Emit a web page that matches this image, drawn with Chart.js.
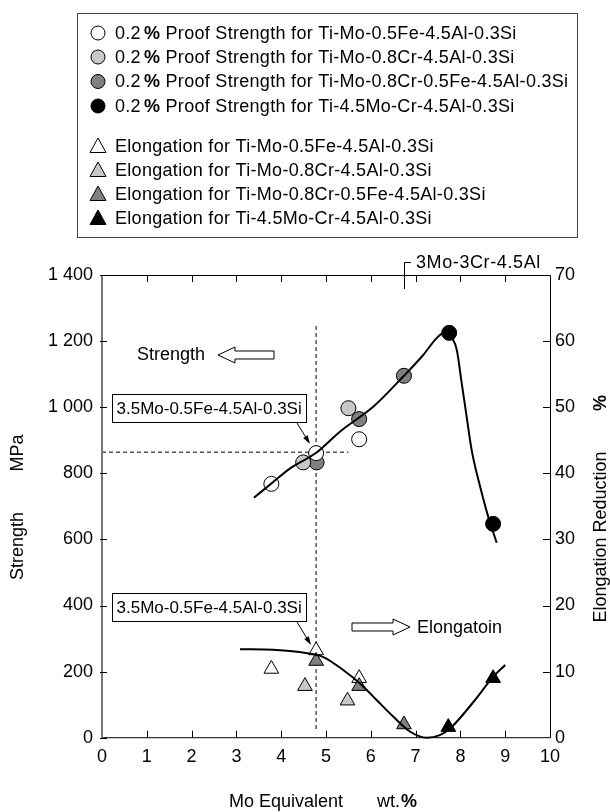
<!DOCTYPE html>
<html>
<head>
<meta charset="utf-8">
<script src="https://cdn.jsdelivr.net/npm/chart.js@4.4.1/dist/chart.umd.min.js"></script>
<style>
  body { margin: 0; background: #fff; }
  canvas { display: block; }
</style>
</head>
<body>
<canvas id="chartMo" width="610" height="812"></canvas>
<script>
// x ticks (Mo equivalent, wt.%) and axis ranges
const moTicks = [0, 1, 2, 3, 4, 5, 6, 7, 8, 9, 10];
const strengthTicks = [0, 200, 400, 600, 800, 1000, 1200, 1400];
const elongTicks = [0, 10, 20, 30, 40, 50, 60, 70];

// 0.2% proof strength (MPa) - circles
const psWhiteMo = [3.78, 4.78, 5.74];
const psWhite = [768, 861, 903];
const psLightMo = [4.49, 5.50];
const psLight = [833, 997];
const psDarkMo = [4.79, 5.74, 6.74];
const psDark = [833, 964, 1095];
const psBlackMo = [7.75, 8.73];
const psBlack = [1225, 647];

// elongation (%) - triangles
const elWhiteMo = [3.78, 4.78, 5.74];
const elWhite = [10.4, 13.2, 9.0];
const elLightMo = [4.53, 5.48];
const elLight = [7.8, 5.6];
const elDarkMo = [4.78, 5.74, 6.74];
const elDark = [11.6, 7.8, 2.0];
const elBlackMo = [7.73, 8.73];
const elBlack = [1.6, 9.0];

// fitted curves
const strCurveMo = [3.39, 3.77, 4.2, 4.78, 5.31, 6.06, 6.74, 7.17, 7.47, 7.62, 7.84, 7.92, 8.03, 8.14, 8.25, 8.44, 8.62, 8.81];
const strCurve = [726, 768, 815, 862, 926, 1002, 1095, 1158, 1209, 1224, 1203, 1173, 1072, 971, 871, 760, 669, 590];
const elCurveMo = [3.08, 3.82, 4.35, 4.94, 5.39, 5.76, 6.13, 6.5, 6.88, 7.25, 7.54, 7.77, 8.29, 8.73, 9.0];
const elCurve = [13.4, 13.3, 13.0, 12.2, 10.2, 8.2, 5.7, 3.2, 0.9, 0.0, 0.4, 1.4, 5.4, 9.2, 11.0];

// dashed guide lines for 3.5Mo-0.5Fe-4.5Al-0.3Si
const guideVMo = [4.78, 4.78];
const guideV = [1246, 23];
const guideHMo = [0, 5.5];
const guideH = [864, 864];

const legendRows = [
  { shape: 'circle', fill: '#ffffff', text: 'Ti-Mo-0.5Fe-4.5Al-0.3Si' },
  { shape: 'circle', fill: '#c8c8c8', text: 'Ti-Mo-0.8Cr-4.5Al-0.3Si' },
  { shape: 'circle', fill: '#808080', text: 'Ti-Mo-0.8Cr-0.5Fe-4.5Al-0.3Si' },
  { shape: 'circle', fill: '#000000', text: 'Ti-4.5Mo-Cr-4.5Al-0.3Si' },
  { shape: 'triangle', fill: '#ffffff', text: 'Ti-Mo-0.5Fe-4.5Al-0.3Si' },
  { shape: 'triangle', fill: '#c8c8c8', text: 'Ti-Mo-0.8Cr-4.5Al-0.3Si' },
  { shape: 'triangle', fill: '#808080', text: 'Ti-Mo-0.8Cr-0.5Fe-4.5Al-0.3Si' },
  { shape: 'triangle', fill: '#000000', text: 'Ti-4.5Mo-Cr-4.5Al-0.3Si' }
];
const legendY = [33, 57, 81.5, 106, 146.5, 170.5, 194.5, 218.5];

const FONT = '"Liberation Sans", Arial, sans-serif';

function zip(xs, ys) {
  return xs.map((x, i) => ({ x: x, y: ys[i] }));
}

function marks(data, axis, style, fill, order) {
  return {
    data: data,
    yAxisID: axis,
    showLine: false,
    pointStyle: style,
    pointRadius: style === 'triangle' ? 8.5 : 7.5,
    backgroundColor: fill,
    borderColor: '#000',
    borderWidth: 1,
    clip: false,
    order: order
  };
}

function curve(data, axis) {
  return {
    data: data,
    yAxisID: axis,
    showLine: true,
    pointRadius: 0,
    borderColor: '#000',
    borderWidth: 2,
    cubicInterpolationMode: 'monotone',
    fill: false,
    clip: false,
    order: 0
  };
}

function dashed(data) {
  return {
    data: data,
    yAxisID: 'y',
    showLine: true,
    pointRadius: 0,
    borderColor: '#555',
    borderWidth: 1.5,
    borderDash: [4, 3],
    fill: false,
    order: 9
  };
}

function hollowArrow(ctx, x1, x2, y, headLen) {
  // arrow from x1 (tail) to x2 (tip)
  const dir = x2 > x1 ? 1 : -1;
  const hb = x2 - dir * headLen;
  ctx.beginPath();
  ctx.moveTo(x2, y);
  ctx.lineTo(hb, y - 8);
  ctx.lineTo(hb, y - 4);
  ctx.lineTo(x1, y - 4);
  ctx.lineTo(x1, y + 4);
  ctx.lineTo(hb, y + 4);
  ctx.lineTo(hb, y + 8);
  ctx.closePath();
  ctx.fillStyle = '#fff';
  ctx.fill();
  ctx.lineWidth = 1;
  ctx.strokeStyle = '#000';
  ctx.stroke();
}

function pointer(ctx, x1, y1, x2, y2) {
  const a = Math.atan2(y2 - y1, x2 - x1);
  ctx.beginPath();
  ctx.moveTo(x1, y1);
  ctx.lineTo(x2 - 6 * Math.cos(a), y2 - 6 * Math.sin(a));
  ctx.lineWidth = 1;
  ctx.strokeStyle = '#000';
  ctx.stroke();
  ctx.beginPath();
  ctx.moveTo(x2, y2);
  ctx.lineTo(x2 - 9 * Math.cos(a - 0.3), y2 - 9 * Math.sin(a - 0.3));
  ctx.lineTo(x2 - 9 * Math.cos(a + 0.3), y2 - 9 * Math.sin(a + 0.3));
  ctx.closePath();
  ctx.fillStyle = '#000';
  ctx.fill();
}

function labelBox(ctx, x, y, w, h, text) {
  ctx.fillStyle = '#fff';
  ctx.fillRect(x, y, w, h);
  ctx.lineWidth = 1;
  ctx.strokeStyle = '#000';
  ctx.strokeRect(x + 0.5, y + 0.5, w, h);
  ctx.fillStyle = '#000';
  ctx.font = '17px ' + FONT;
  ctx.textAlign = 'left';
  ctx.textBaseline = 'middle';
  ctx.fillText(text, x + 4.5, y + h / 2 + 1);
}

function legendMarker(ctx, shape, fill, x, y) {
  ctx.beginPath();
  if (shape === 'circle') {
    ctx.arc(x, y, 7, 0, Math.PI * 2);
  } else {
    ctx.moveTo(x, y - 8.5);
    ctx.lineTo(x + 8, y + 6);
    ctx.lineTo(x - 8, y + 6);
    ctx.closePath();
  }
  ctx.fillStyle = fill;
  ctx.fill();
  ctx.lineWidth = 1;
  ctx.strokeStyle = '#000';
  ctx.stroke();
}

const decorPlugin = {
  id: 'decor',
  afterDraw(chart) {
    const ctx = chart.ctx;
    const a = chart.chartArea;
    const sx = chart.scales.x, sy = chart.scales.y, sy1 = chart.scales.y1;
    ctx.save();

    // frame
    ctx.strokeStyle = '#000';
    ctx.lineWidth = 1;
    ctx.beginPath();
    ctx.moveTo(a.left, a.top + 0.5);
    ctx.lineTo(a.right + 0.5, a.top + 0.5);
    ctx.lineTo(a.right + 0.5, a.bottom);
    ctx.lineTo(a.left, a.bottom);
    ctx.stroke();
    ctx.strokeStyle = '#777';
    ctx.lineWidth = 2;
    ctx.beginPath();
    ctx.moveTo(a.left, a.top);
    ctx.lineTo(a.left, a.bottom + 1);
    ctx.stroke();

    // inward ticks
    ctx.strokeStyle = '#000';
    ctx.lineWidth = 1;
    ctx.beginPath();
    moTicks.slice(1, -1).forEach(v => {
      const px = Math.round(sx.getPixelForValue(v)) + 0.5;
      ctx.moveTo(px, a.bottom); ctx.lineTo(px, a.bottom - 7);
      ctx.moveTo(px, a.top); ctx.lineTo(px, a.top + 7);
    });
    strengthTicks.forEach(v => {
      const py = Math.round(sy.getPixelForValue(v)) + 0.5;
      ctx.moveTo(a.left - 2, py); ctx.lineTo(a.left + 5, py);
    });
    elongTicks.slice(1, -1).forEach(v => {
      const py = Math.round(sy1.getPixelForValue(v)) + 0.5;
      ctx.moveTo(a.right, py); ctx.lineTo(a.right - 7, py);
    });
    ctx.stroke();

    // axis titles
    ctx.fillStyle = '#000';
    ctx.textBaseline = 'middle';
    ctx.textAlign = 'center';
    ctx.font = '18px ' + FONT;
    ctx.save();
    ctx.translate(18, 546);
    ctx.rotate(-Math.PI / 2);
    ctx.fillText('Strength', 0, 0);
    ctx.restore();
    ctx.save();
    ctx.translate(18, 453);
    ctx.rotate(-Math.PI / 2);
    ctx.fillText('MPa', 0, 0);
    ctx.restore();
    ctx.save();
    ctx.translate(601, 537);
    ctx.rotate(-Math.PI / 2);
    ctx.fillText('Elongation Reduction', 0, 0);
    ctx.font = 'bold 18px ' + FONT;
    ctx.fillText('%', 134, 0);
    ctx.restore();

    ctx.font = '18px ' + FONT;
    ctx.fillText('Mo Equivalent', 286, 802);
    ctx.textAlign = 'left';
    ctx.fillText('wt.', 377, 802);
    const wtW = ctx.measureText('wt.').width;
    ctx.font = 'bold 18px ' + FONT;
    ctx.fillText('%', 377 + wtW + 1, 802);

    // 3Mo-3Cr-4.5Al bracket
    ctx.beginPath();
    ctx.moveTo(404.5, 289);
    ctx.lineTo(404.5, 262.5);
    ctx.lineTo(411, 262.5);
    ctx.stroke();
    ctx.font = '18px ' + FONT;
    ctx.letterSpacing = '0.6px';
    ctx.fillText('3Mo-3Cr-4.5Al', 416, 263);
    ctx.letterSpacing = '0px';

    // direction labels
    ctx.fillText('Strength', 137, 355);
    hollowArrow(ctx, 274, 218, 355, 17);
    hollowArrow(ctx, 352, 410, 627, 17);
    ctx.fillStyle = '#000';
    ctx.font = '18px ' + FONT;
    ctx.textAlign = 'left';
    ctx.fillText('Elongatoin', 417, 628);

    // alloy call-outs
    labelBox(ctx, 112, 394, 194, 28, '3.5Mo-0.5Fe-4.5Al-0.3Si');
    pointer(ctx, 297, 423, 310, 444);
    labelBox(ctx, 112, 593, 194, 28, '3.5Mo-0.5Fe-4.5Al-0.3Si');
    pointer(ctx, 297, 622, 311, 645);

    // legend
    ctx.strokeStyle = '#444';
    ctx.lineWidth = 1;
    ctx.strokeRect(77.5, 13.5, 500, 224);
    ctx.letterSpacing = '0.3px';
    legendRows.forEach((r, i) => {
      const y = legendY[i];
      legendMarker(ctx, r.shape, r.fill, 98, y);
      ctx.fillStyle = '#000';
      ctx.textAlign = 'left';
      ctx.textBaseline = 'middle';
      ctx.font = '18px ' + FONT;
      let x = 115;
      if (r.shape === 'circle') {
        ctx.fillText('0.2', x, y + 1);
        x += ctx.measureText('0.2').width + 3;
        ctx.font = 'bold 18px ' + FONT;
        ctx.fillText('%', x, y + 1);
        x += ctx.measureText('%').width;
        ctx.font = '18px ' + FONT;
        ctx.fillText(' Proof Strength for ' + r.text, x, y + 1);
      } else {
        ctx.fillText('Elongation for ' + r.text, x, y + 1);
      }
    });
    ctx.letterSpacing = '0px';

    ctx.restore();
  }
};

const tickFont = { family: FONT, size: 18 };
const noGrid = { display: false, drawTicks: false };

new Chart(document.getElementById('chartMo').getContext('2d'), {
  type: 'scatter',
  data: {
    datasets: [
      dashed(zip(guideVMo, guideV)),
      dashed(zip(guideHMo, guideH)),
      marks(zip(psDarkMo, psDark), 'y', 'circle', '#808080', 5),
      marks(zip(psLightMo, psLight), 'y', 'circle', '#c8c8c8', 4),
      marks(zip(psWhiteMo, psWhite), 'y', 'circle', '#ffffff', 3),
      marks(zip(psBlackMo, psBlack), 'y', 'circle', '#000000', 3),
      marks(zip(elWhiteMo, elWhite), 'y1', 'triangle', '#ffffff', 5),
      marks(zip(elLightMo, elLight), 'y1', 'triangle', '#c8c8c8', 4),
      marks(zip(elDarkMo, elDark), 'y1', 'triangle', '#808080', 3),
      marks(zip(elBlackMo, elBlack), 'y1', 'triangle', '#000000', 3),
      curve(zip(strCurveMo, strCurve), 'y'),
      curve(zip(elCurveMo, elCurve), 'y1')
    ]
  },
  options: {
    responsive: false,
    maintainAspectRatio: false,
    animation: false,
    layout: { padding: { top: 275, left: 0, right: 0, bottom: 0 } },
    plugins: {
      legend: { display: false },
      tooltip: { enabled: false }
    },
    scales: {
      x: {
        type: 'linear',
        min: 0, max: 10,
        afterFit: s => { s.height = 74.3; },
        afterBuildTicks: s => { s.ticks = moTicks.map(v => ({ value: v })); },
        grid: noGrid,
        border: { display: false },
        ticks: { font: tickFont, color: '#000', padding: 9, maxRotation: 0 }
      },
      y: {
        type: 'linear',
        position: 'left',
        min: 0, max: 1400,
        afterFit: s => { s.width = 102; },
        afterBuildTicks: s => { s.ticks = strengthTicks.map(v => ({ value: v })); },
        grid: noGrid,
        border: { display: false },
        ticks: {
          font: tickFont, color: '#000', padding: 9,
          callback: v => v >= 1000 ? Math.floor(v / 1000) + ' ' + String(v % 1000).padStart(3, '0') : String(v)
        }
      },
      y1: {
        type: 'linear',
        position: 'right',
        min: 0, max: 70,
        afterFit: s => { s.width = 60; },
        afterBuildTicks: s => { s.ticks = elongTicks.map(v => ({ value: v })); },
        grid: noGrid,
        border: { display: false },
        ticks: { font: tickFont, color: '#000', padding: 5 }
      }
    }
  },
  plugins: [decorPlugin]
});
</script>
</body>
</html>
